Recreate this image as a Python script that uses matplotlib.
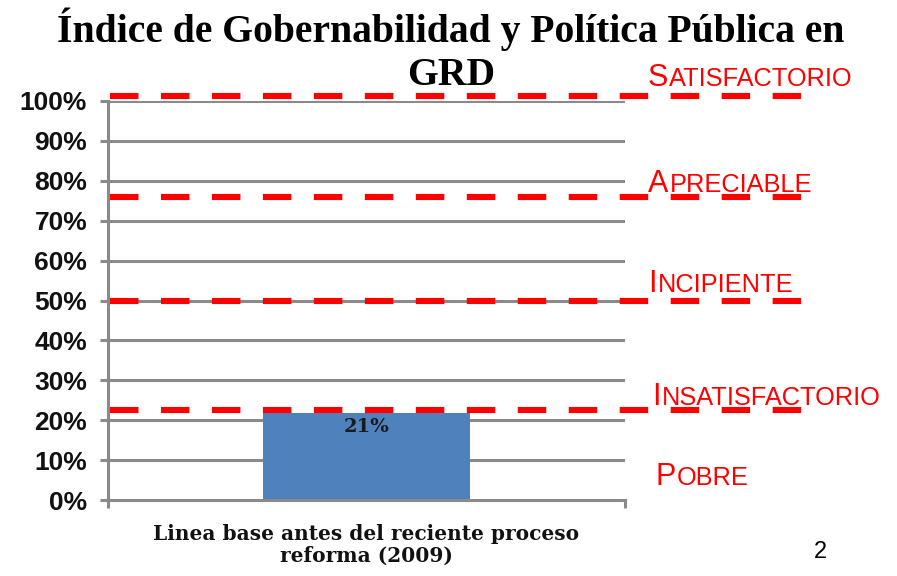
import matplotlib
matplotlib.use("Agg")
import matplotlib.pyplot as plt
import matplotlib.transforms as mtransforms
from matplotlib.ticker import FuncFormatter, FixedLocator

# ---- data ----
categories = ["Linea base antes del reciente proceso\nreforma (2009)"]
values = [0.218]
value_labels = ["21%"]
thresholds = [1.013, 0.76, 0.50, 0.226]
level_names = ["Satisfactorio", "Apreciable", "Incipiente", "Insatisfactorio", "Pobre"]
title_lines = ["Índice de Gobernabilidad y Política Pública en", "GRD"]
page_number = "2"

plt.rcParams['lines.scale_dashes'] = False

fig = plt.figure(figsize=(8.97, 5.76), dpi=100)
W, H = 897, 576
ax = fig.add_axes([108 / W, 1 - 500 / H, (625 - 108) / W, (500 - 101) / H])

grid_col = "#8a8a8a"
ax.set_ylim(0, 1)
ax.set_xlim(-0.5, 0.5)
ax.yaxis.set_major_locator(FixedLocator([i / 10 for i in range(11)]))
ax.yaxis.set_major_formatter(FuncFormatter(lambda v, p: f"{round(v*100)}%"))
for v in [i / 10 for i in range(1, 11)]:
    ax.axhline(v, color=grid_col, lw=2.2, zorder=0)

ax.bar(range(len(categories)), values, width=0.4, color="#4f81bd", zorder=2)
for i, (v, lab) in enumerate(zip(values, value_labels)):
    ax.text(i, v - 0.012, lab, ha="center", va="top", fontsize=14,
            fontweight="bold", family="DejaVu Serif", color="#1a1a1a", zorder=3)

ax.set_xticks([-0.5, 0.5], minor=False)
ax.set_xticklabels(["", ""])
ax.tick_params(axis="x", length=6, width=2.2, color=grid_col, direction="out")
ax.tick_params(axis="y", length=6, width=2.2, color=grid_col, direction="out", pad=9)
for lab in ax.get_yticklabels():
    lab.set_fontfamily("Liberation Sans")
    lab.set_fontweight("bold")
    lab.set_fontsize(19)
    lab.set_color("#111111")
for s in ["top", "right"]:
    ax.spines[s].set_visible(False)
for s in ["left", "bottom"]:
    ax.spines[s].set_color(grid_col)
    ax.spines[s].set_linewidth(2.2)

# category label
for i, c in enumerate(categories):
    ax.text(i, -0.06, c, ha="center", va="top", fontsize=14.5, fontweight="bold",
            family="DejaVu Serif", color="#111111", linespacing=1.1,
            transform=mtransforms.blended_transform_factory(ax.transData, ax.transAxes))

# threshold dashed lines
blend = mtransforms.blended_transform_factory(ax.transAxes, ax.transData)
x_end = (808 - 108) / (625 - 108)
for t in thresholds:
    ln, = ax.plot([0.004, x_end], [t, t], color="#ff0000", lw=4.4, transform=blend,
                  clip_on=False, zorder=4, solid_capstyle="butt", dash_capstyle="butt")
    ln.set_dashes((20.5, 16.2))

# small caps labels
fig.canvas.draw()
renderer = fig.canvas.get_renderer()
label_pos = [(648, 86), (648, 192), (648, 292), (652, 405), (655, 485)]
for name, (px, py) in zip(level_names, label_pos):
    fx, fy = px / W, 1 - py / H
    t1 = fig.text(fx, fy, name[0].upper(), fontsize=22, color="#ff0000",
                  family="Liberation Sans", va="baseline", ha="left")
    bb = t1.get_window_extent(renderer)
    fig.text(fx + (bb.width + 1) / W, fy, name[1:].upper(), fontsize=18.3, color="#ff0000",
             family="Liberation Sans", va="baseline", ha="left")

for line, base in zip(title_lines, [42, 85]):
    fig.text(451 / W, 1 - base / H, line, ha="center", va="baseline", fontsize=28.5,
             fontweight="bold", family="Liberation Serif")
fig.text(820 / W, 1 - 558 / H, page_number, fontsize=17, family="Liberation Sans",
         ha="center", va="baseline")

fig.savefig("out.png", dpi=100)
